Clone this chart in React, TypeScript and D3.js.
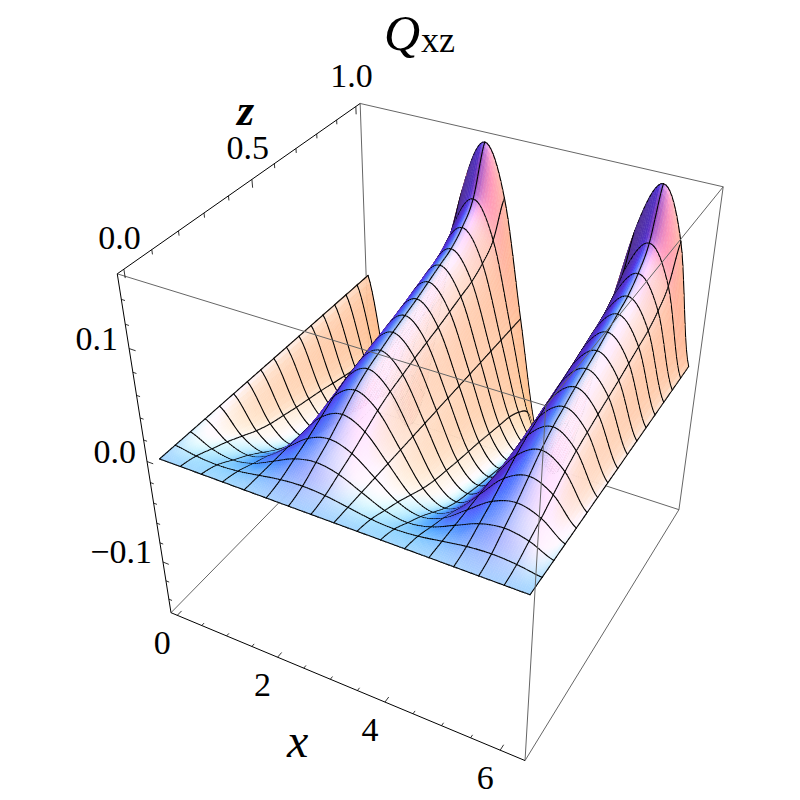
import { useEffect, useRef } from 'react';
import * as d3 from 'd3';

// surface values: Q at the far edge (z = 1) along x, mesh lines run 0..2 pi
const xProfile = [0, -0.11, -0.155, -0.11, 0, 0.11, 0.155, 0.11, 0, -0.11, -0.155, -0.11, 0, 0.11, 0.155, 0.11, 0];
// how the height grows from z = 0 to z = 1
const zProfile = [0, 0.03, 0.085, 0.14, 0.205, 0.27, 0.32, 0.355, 0.39, 0.42, 0.45, 0.485, 0.52, 0.555, 0.62, 0.73, 1];
const xMax = 6.283;

const xTicks = d3.range(0, 6.01, 0.5);
const zTicks = d3.range(0, 1.01, 0.1);
const qTicks = d3.range(-0.14, 0.141, 0.02);
const xLabels = [0, 2, 4, 6];
const zLabels = [0, 0.5, 1];
const qLabels = [-0.1, 0, 0.1];

// box corners in the picture, [u, v, w, px, py]
const corners = [
  [0, 0, 1, 117.5, 274],
  [0, 1, 1, 360, 103],
  [1, 1, 1, 723, 187],
  [1, 0, 1, 546, 406],
  [0, 0, 0, 170.7, 612],
  [1, 0, 0, 525, 761],
  [0, 1, 0, 371, 410],
  [1, 1, 0, 679, 509],
];

const uScale = d3.scaleLinear().domain([-0.13, 6.413]).range([0, 1]);
const vScale = d3.scaleLinear().domain([-0.023, 1.023]).range([0, 1]);
const wScale = d3.scaleLinear().domain([-0.155, 0.16]).range([0, 1]);

const SUB = 10;

// least squares fit of the projection
function fitCamera() {
  const rows: number[][] = [];
  const rhs: number[] = [];
  corners.forEach(([u, v, w, x, y]) => {
    rows.push([u, v, w, 1, 0, 0, 0, 0, -x * u, -x * v, -x * w]);
    rhs.push(x);
    rows.push([0, 0, 0, 0, u, v, w, 1, -y * u, -y * v, -y * w]);
    rhs.push(y);
  });
  const n = 11;
  const a = d3.range(n).map(i => {
    const r = d3.range(n).map(j => d3.sum(rows, row => row[i] * row[j]));
    r.push(d3.sum(rows, (row, k) => row[i] * rhs[k]));
    return r;
  });
  for (let i = 0; i < n; i++) {
    let best = i;
    for (let k = i + 1; k < n; k++) if (Math.abs(a[k][i]) > Math.abs(a[best][i])) best = k;
    [a[i], a[best]] = [a[best], a[i]];
    for (let k = 0; k < n; k++) {
      if (k === i) continue;
      const m = a[k][i] / a[i][i];
      for (let j = i; j <= n; j++) a[k][j] -= m * a[i][j];
    }
  }
  return a.map((r, i) => r[n] / r[i]);
}

const catmull = (arr: number[], t: number) => {
  const i = Math.min(Math.floor(t), arr.length - 2);
  const s = t - i;
  const p0 = arr[Math.max(i - 1, 0)];
  const p1 = arr[i];
  const p2 = arr[i + 1];
  const p3 = arr[Math.min(i + 2, arr.length - 1)];
  return 0.5 * (2 * p1 + (p2 - p0) * s + (2 * p0 - 5 * p1 + 4 * p2 - p3) * s * s + (3 * p1 - p0 - 3 * p2 + p3) * s * s * s);
};

const App = () => {
  const chartRef = useRef<SVGSVGElement | null>(null);

  useEffect(() => {
    if (!chartRef.current) return;
    const svg = d3.select(chartRef.current);
    svg.selectAll('*').remove();

    const p = fitCamera();
    const project = (u: number, v: number, w: number): [number, number] => {
      const d = p[8] * u + p[9] * v + p[10] * w + 1;
      return [(p[0] * u + p[1] * v + p[2] * w + p[3]) / d, (p[4] * u + p[5] * v + p[6] * w + p[7]) / d];
    };
    const depth = (u: number, v: number, w: number) => p[8] * u + p[9] * v + p[10] * w + 1;

    // camera axes, for the lighting
    const cx = 400;
    const cy = 410;
    const col = (k: number) => [p[k] - cx * p[8 + k], p[4 + k] - cy * p[8 + k], p[8 + k]];
    const m = [col(0), col(1), col(2)];
    const f2s = [[0, 1], [0, 2], [1, 2]].map(([a, b]) => -(m[a][0] * m[b][0] + m[a][1] * m[b][1]) / (m[a][2] * m[b][2]));
    const focal = Math.sqrt(d3.median(f2s) as number);
    const r = m.map(c => [c[0] / focal, c[1] / focal, c[2]]);
    const t = [(p[3] - cx) / focal, (p[7] - cy) / focal, 1];

    const lights = [
      { dir: [2, 0, 2], col: [0.8, 0, 0] },
      { dir: [2, 2, 2], col: [0, 0.8, 0] },
      { dir: [0, 2, 2], col: [0, 0, 0.8] },
    ].map(l => {
      const len = Math.hypot(l.dir[0], l.dir[1], l.dir[2]);
      return { dir: l.dir.map(d => d / len), col: l.col };
    });
    const ambient = [0.312, 0.188, 0.4];

    const N = (xProfile.length - 1) * SUB;
    const us = d3.range(N + 1).map(i => uScale((xMax * i) / N));
    const vs = d3.range(N + 1).map(j => vScale(j / N));
    const xFine = d3.range(N + 1).map(i => catmull(xProfile, i / SUB));
    const zFine = d3.range(N + 1).map(j => catmull(zProfile, j / SUB));
    const ws = xFine.map(a => zFine.map(b => wScale(a * b)));

    const shade = (i: number, j: number) => {
      const i0 = Math.max(i, 0);
      const i1 = Math.min(i + 1, N);
      const j0 = Math.max(j, 0);
      const j1 = Math.min(j + 1, N);
      const dwu = (ws[i1][j] + ws[i1][j1] - ws[i0][j] - ws[i0][j1]) / (2 * (us[i1] - us[i0]));
      const dwv = (ws[i][j1] + ws[i1][j1] - ws[i][j0] - ws[i1][j0]) / (2 * (vs[j1] - vs[j0]));
      const a = [0, 1, 2].map(k => r[0][k] + dwu * r[2][k]);
      const b = [0, 1, 2].map(k => r[1][k] + dwv * r[2][k]);
      let n = [a[1] * b[2] - a[2] * b[1], a[2] * b[0] - a[0] * b[2], a[0] * b[1] - a[1] * b[0]];
      const len = Math.hypot(n[0], n[1], n[2]);
      n = n.map(c => c / len);
      const pos = [0, 1, 2].map(k => us[i] * r[0][k] + vs[j] * r[1][k] + ws[i][j] * r[2][k] + t[k]);
      if (n[0] * pos[0] + n[1] * pos[1] + n[2] * pos[2] > 0) n = n.map(c => -c);
      const view = [n[0], -n[1], -n[2]];
      const c = [...ambient];
      lights.forEach(l => {
        const dot = Math.max(0, view[0] * l.dir[0] + view[1] * l.dir[1] + view[2] * l.dir[2]);
        c[0] += dot * l.col[0];
        c[1] += dot * l.col[1];
        c[2] += dot * l.col[2];
      });
      return d3.rgb(Math.min(c[0], 1) * 255, Math.min(c[1], 1) * 255, Math.min(c[2], 1) * 255).formatHex();
    };

    const line = d3.line();

    // far box edges go under the surface
    const edge = (a: number[], b: number[]) => line([project(a[0], a[1], a[2]), project(b[0], b[1], b[2])]);
    const backEdges = [
      [[0, 1, 1], [1, 1, 1]], [[0, 1, 1], [0, 1, 0]], [[0, 1, 0], [1, 1, 0]],
      [[0, 0, 0], [0, 1, 0]], [[1, 1, 1], [1, 1, 0]], [[1, 0, 0], [1, 1, 0]],
    ];
    const frontEdges = [[[0, 0, 1], [1, 0, 1]], [[1, 0, 1], [1, 1, 1]], [[1, 0, 1], [1, 0, 0]]];
    const axisEdges = [[[0, 0, 1], [0, 1, 1]], [[0, 0, 1], [0, 0, 0]], [[0, 0, 0], [1, 0, 0]]];

    svg.append('g').selectAll('path').data(backEdges).join('path')
      .attr('d', d => edge(d[0], d[1]))
      .attr('stroke', '#666').attr('stroke-width', 1).attr('fill', 'none');

    // painter's list: small quads plus mesh segments
    const sign = depth(1, 0, 1) > depth(0, 1, 0) ? 1 : -1; // larger key = nearer
    type Item = { key: number; d: string; fill?: string };
    const items: Item[] = [];
    const quadKey = (i: number, j: number) =>
      sign * depth((us[i] + us[i + 1]) / 2, (vs[j] + vs[j + 1]) / 2, (ws[i][j] + ws[i + 1][j] + ws[i][j + 1] + ws[i + 1][j + 1]) / 4);
    for (let i = 0; i < N; i++) {
      for (let j = 0; j < N; j++) {
        const pts = [
          project(us[i], vs[j], ws[i][j]),
          project(us[i + 1], vs[j], ws[i + 1][j]),
          project(us[i + 1], vs[j + 1], ws[i + 1][j + 1]),
          project(us[i], vs[j + 1], ws[i][j + 1]),
        ];
        items.push({ key: quadKey(i, j), d: line(pts) + 'Z', fill: shade(i, j) });
      }
    }
    const eps = 1e-6;
    for (let i = 0; i <= N; i += SUB) {
      for (let j = 0; j < N; j++) {
        const near = Math.max(i > 0 ? quadKey(i - 1, j) : -Infinity, i < N ? quadKey(i, j) : -Infinity);
        items.push({ key: near + eps, d: line([project(us[i], vs[j], ws[i][j]), project(us[i], vs[j + 1], ws[i][j + 1])]) as string });
      }
    }
    for (let j = 0; j <= N; j += SUB) {
      for (let i = 0; i < N; i++) {
        const near = Math.max(j > 0 ? quadKey(i, j - 1) : -Infinity, j < N ? quadKey(i, j) : -Infinity);
        items.push({ key: near + eps, d: line([project(us[i], vs[j], ws[i][j]), project(us[i + 1], vs[j], ws[i + 1][j])]) as string });
      }
    }
    items.sort((a, b) => a.key - b.key);

    svg.append('g').selectAll('path').data(items).join('path')
      .attr('d', d => d.d)
      .attr('fill', d => d.fill ?? 'none')
      .attr('stroke', d => d.fill ?? '#000')
      .attr('stroke-width', d => (d.fill ? 0.5 : 1.1))
      .attr('stroke-linecap', 'round');

    svg.append('g').selectAll('path').data(frontEdges).join('path')
      .attr('d', d => edge(d[0], d[1]))
      .attr('stroke', '#666').attr('stroke-width', 1).attr('fill', 'none');
    svg.append('g').selectAll('path').data(axisEdges).join('path')
      .attr('d', d => edge(d[0], d[1]))
      .attr('stroke', '#000').attr('stroke-width', 1).attr('fill', 'none');

    // ticks
    const tickG = svg.append('g').attr('stroke', '#000').attr('stroke-width', 0.8).attr('fill', 'none');
    const isMajor = (v: number, list: number[]) => list.some(l => Math.abs(l - v) < 1e-6);
    xTicks.forEach(x => {
      const len = isMajor(x, xLabels) ? 0.018 : 0.01;
      tickG.append('path').attr('d', edge([uScale(x), 0, 0], [uScale(x), len, 0]));
    });
    zTicks.forEach(z => {
      const len = isMajor(z, zLabels) ? 0.022 : 0.012;
      tickG.append('path').attr('d', edge([0, vScale(z), 1], [0, vScale(z), 1 - len]));
    });
    qTicks.forEach(q => {
      const len = isMajor(q, qLabels) ? 0.018 : 0.01;
      tickG.append('path').attr('d', edge([0, 0, wScale(q)], [len, 0, wScale(q)]));
    });

    // labels
    const label = svg.append('g')
      .attr('font-family', '"Liberation Serif", serif')
      .attr('font-size', 34)
      .attr('fill', '#000');
    xLabels.forEach(x => {
      const [px, py] = project(uScale(x), 0, 0);
      label.append('text').attr('x', px - 15).attr('y', py + 39).attr('text-anchor', 'middle').text(x);
    });
    zLabels.forEach(z => {
      const [px, py] = project(0, vScale(z), 1);
      label.append('text').attr('x', px + 17).attr('y', py - 20).attr('text-anchor', 'end').text(z.toFixed(1));
    });
    qLabels.forEach(q => {
      const [px, py] = project(0, 0, wScale(q));
      label.append('text').attr('x', px - 11).attr('y', py + 1).attr('text-anchor', 'end')
        .text(q < 0 ? `\u2212${Math.abs(q).toFixed(1)}` : q.toFixed(1));
    });
    label.append('text').attr('x', 287).attr('y', 757).attr('font-size', 48).attr('font-style', 'italic').text('x');
    label.append('text').attr('x', 237).attr('y', 125).attr('font-size', 44).attr('font-style', 'italic').attr('font-weight', 'bold').text('z');
    label.append('text').attr('x', 384).attr('y', 50).attr('font-size', 50).attr('font-style', 'italic').text('Q');
    label.append('text').attr('x', 421).attr('y', 52).attr('font-size', 36).text('xz');
  }, []);

  return <svg ref={chartRef} width={800} height={800} style={{ position: 'absolute', left: 0, top: 0, background: '#fff' }} />;
};

export default App;
